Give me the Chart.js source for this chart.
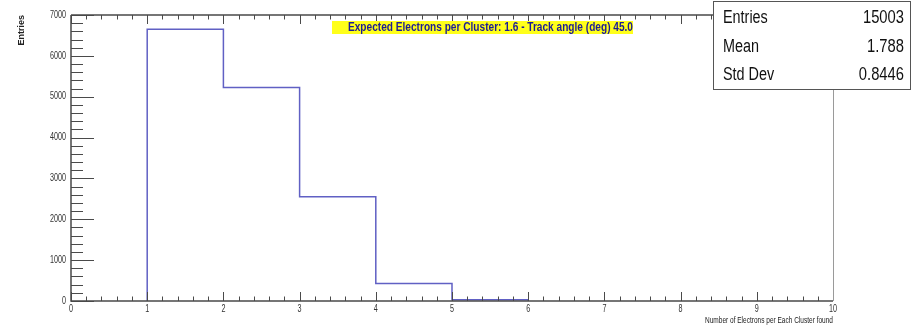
<!DOCTYPE html>
<html>
<head>
<meta charset="utf-8">
<script src="https://cdn.jsdelivr.net/npm/chart.js@4.4.1/dist/chart.umd.min.js"></script>
<style>
  body { margin: 0; background: #fff; }
  canvas { display: block; }
</style>
</head>
<body>
<canvas id="histo" width="912" height="327"></canvas>
<script>
// histogram bins (lower edge) and counts
const binLow = [1, 2, 3, 4, 5];
const binWidth = 1;
const binCounts = [6650, 5225, 2550, 430, 30];

const xRange = [0, 10];
const yRange = [0, 7000];

const titleText = 'Expected Electrons per Cluster: 1.6 - Track angle (deg) 45.0';
const xTitle = 'Number of Electrons per Each Cluster found';
const yTitle = 'Entries';

const statLabels = ['Entries', 'Mean', 'Std Dev'];
const statValues = ['15003', '1.788', '0.8446'];

const sans = "'Liberation Sans', Arial, sans-serif";

// build the outline of the histogram from the bins
let outline = [{ x: binLow[0], y: 0 }];
for (let i = 0; i < binLow.length; i++) {
    outline.push({ x: binLow[i], y: binCounts[i] });
    outline.push({ x: binLow[i] + binWidth, y: binCounts[i] });
}
outline.push({ x: binLow[binLow.length - 1] + binWidth, y: 0 });

// helvetica narrow look: squeeze the text horizontally
function narrowText(ctx, text, x, y, factor) {
    let w = ctx.measureText(text).width;
    ctx.fillText(text, x, y, w * factor);
}

const framePlugin = {
    id: 'rootFrame',
    afterDraw(chart) {
        const ctx = chart.ctx;
        const a = chart.chartArea;
        const xs = chart.scales.x;
        const ys = chart.scales.y;
        const boxLeft = 713;
        const boxBottom = 89;

        ctx.save();
        ctx.strokeStyle = '#4a4a4a';
        ctx.lineWidth = 1;
        ctx.beginPath();
        // x ticks, bottom and top
        for (let i = 0; i <= 50; i++) {
            const v = i * 0.2;
            const major = i % 5 === 0;
            const px = Math.round(xs.getPixelForValue(v)) + 0.5;
            const len = major ? 9 : 4.5;
            ctx.moveTo(px, a.bottom);
            ctx.lineTo(px, a.bottom - len);
            if (px < boxLeft) {
                ctx.moveTo(px, a.top);
                ctx.lineTo(px, a.top + len);
            }
        }
        // y ticks
        for (let i = 0; i <= 35; i++) {
            const v = i * 200;
            const major = i % 5 === 0;
            const py = Math.round(ys.getPixelForValue(v)) + 0.5;
            ctx.moveTo(a.left, py);
            ctx.lineTo(a.left + (major ? 23 : 12), py);
        }
        ctx.stroke();

        // frame
        ctx.lineWidth = 1.5;
        ctx.beginPath();
        ctx.moveTo(a.left, a.top);
        ctx.lineTo(a.left, a.bottom);
        ctx.lineTo(a.right, a.bottom);
        ctx.moveTo(a.left, a.top);
        ctx.lineTo(boxLeft, a.top);
        ctx.stroke();
        ctx.strokeStyle = '#9a9a9a';
        ctx.lineWidth = 1;
        ctx.beginPath();
        ctx.moveTo(a.right + 0.5, boxBottom);
        ctx.lineTo(a.right + 0.5, a.bottom);
        ctx.stroke();

        // tick labels
        ctx.fillStyle = '#333';
        ctx.font = '10px ' + sans;
        ctx.textBaseline = 'middle';
        ctx.textAlign = 'right';
        ys.ticks.forEach(t => {
            narrowText(ctx, String(t.value), a.left - 5, ys.getPixelForValue(t.value), 0.72);
        });
        ctx.textAlign = 'center';
        ctx.textBaseline = 'top';
        xs.ticks.forEach(t => {
            narrowText(ctx, String(t.value), xs.getPixelForValue(t.value), a.bottom + 3, 0.72);
        });

        // title in yellow box
        ctx.fillStyle = '#ffff1a';
        ctx.fillRect(332, 21, 301, 13);
        ctx.fillStyle = '#1c1c96';
        ctx.font = 'bold 13px ' + sans;
        ctx.textBaseline = 'middle';
        ctx.textAlign = 'left';
        ctx.fillText(titleText, 348, 27.5, 285);

        // axis titles
        ctx.fillStyle = '#222';
        ctx.font = '9px ' + sans;
        ctx.textAlign = 'right';
        ctx.fillText(xTitle, a.right, 321, 128);
        ctx.save();
        ctx.translate(22, a.top);
        ctx.rotate(-Math.PI / 2);
        ctx.font = 'bold 9px ' + sans;
        ctx.textAlign = 'right';
        ctx.fillText(yTitle, 0, 0, 33);
        ctx.restore();

        // stats box
        ctx.fillStyle = '#fff';
        ctx.fillRect(boxLeft, 1, 199, boxBottom - 1);
        ctx.strokeStyle = '#555';
        ctx.lineWidth = 1;
        ctx.strokeRect(boxLeft + 0.5, 1.5, 197, boxBottom - 1);
        ctx.fillStyle = '#111';
        ctx.font = '18px ' + sans;
        ctx.textBaseline = 'middle';
        const rowY = [18, 47, 75];
        for (let i = 0; i < statLabels.length; i++) {
            ctx.textAlign = 'left';
            narrowText(ctx, statLabels[i], 723, rowY[i], 0.8);
            ctx.textAlign = 'right';
            narrowText(ctx, statValues[i], 904, rowY[i], 0.82);
        }
        ctx.restore();
    }
};

const ctx = document.querySelector('#histo').getContext('2d');
new Chart(ctx, {
    type: 'line',
    data: {
        datasets: [{
            label: 'histo',
            data: outline,
            borderColor: 'rgb(96, 96, 196)',
            borderWidth: 1.5,
            pointRadius: 0,
            fill: false,
            tension: 0
        }]
    },
    options: {
        responsive: false,
        animation: false,
        layout: { padding: { top: 15, right: 79, left: 0, bottom: 0 } },
        plugins: {
            legend: { display: false },
            tooltip: { enabled: false }
        },
        scales: {
            x: {
                type: 'linear',
                min: xRange[0],
                max: xRange[1],
                border: { display: false },
                grid: { display: false, drawTicks: false },
                ticks: { stepSize: 1, display: false },
                afterFit(scale) { scale.height = 26; }
            },
            y: {
                min: yRange[0],
                max: yRange[1],
                border: { display: false },
                grid: { display: false, drawTicks: false },
                ticks: { stepSize: 1000, display: false },
                afterFit(scale) { scale.width = 71; }
            }
        }
    },
    plugins: [framePlugin]
});
</script>
</body>
</html>
